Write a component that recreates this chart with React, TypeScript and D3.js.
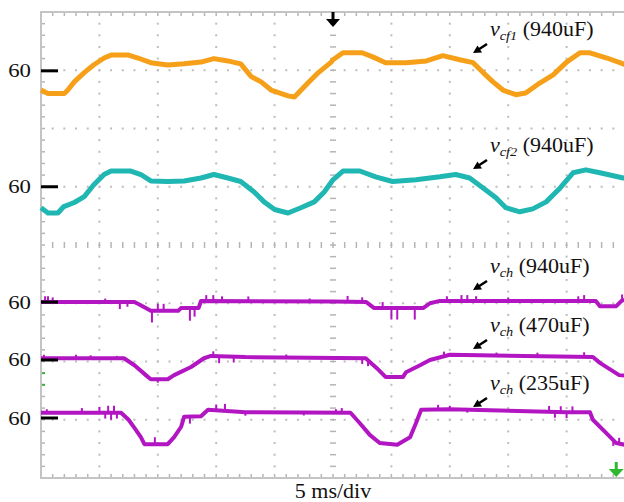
import React, { useRef, useEffect } from 'react';
import * as d3 from 'd3';

// time in divisions (5 ms/div), deviation in divisions from each channel's "60" marker
const vcf1 = [
  [0, -0.33], [0.12, -0.39], [0.4, -0.39], [0.46, -0.33], [0.57, -0.19], [0.74, -0.03], [0.9, 0.1],
  [1.08, 0.22], [1.2, 0.27], [1.5, 0.27], [1.66, 0.22], [1.88, 0.14], [2.17, 0.1], [2.45, 0.12],
  [2.74, 0.15], [2.96, 0.21], [3.2, 0.17], [3.42, 0.12], [3.6, -0.1], [3.77, -0.19], [3.94, -0.33],
  [4.23, -0.43], [4.34, -0.45], [4.57, -0.21], [4.75, -0.03], [4.97, 0.15], [5.0, 0.19], [5.17, 0.31],
  [5.5, 0.31], [5.68, 0.24], [5.9, 0.14], [6.25, 0.14], [6.6, 0.17], [6.88, 0.26], [7.17, 0.19],
  [7.4, 0.14], [7.57, -0.03], [7.74, -0.19], [7.91, -0.33], [8.13, -0.41], [8.3, -0.38], [8.54, -0.21],
  [8.77, -0.07], [9.0, 0.15], [9.23, 0.31], [9.4, 0.31], [9.69, 0.22], [9.97, 0.12], [10, 0.1],
];

const vcf2 = [
  [0, -0.36], [0.12, -0.45], [0.29, -0.45], [0.39, -0.34], [0.57, -0.27], [0.74, -0.17], [0.9, 0.03],
  [1.08, 0.21], [1.2, 0.27], [1.54, 0.27], [1.71, 0.21], [1.88, 0.1], [2.17, 0.09], [2.45, 0.1],
  [2.74, 0.15], [2.96, 0.21], [3.2, 0.15], [3.42, 0.09], [3.65, -0.09], [3.82, -0.26], [4.0, -0.39],
  [4.23, -0.45], [4.45, -0.36], [4.68, -0.26], [4.85, -0.09], [5.0, 0.12], [5.17, 0.27], [5.46, 0.27],
  [5.73, 0.17], [6.02, 0.09], [6.42, 0.12], [6.83, 0.17], [7.1, 0.21], [7.34, 0.15], [7.57, -0.02],
  [7.79, -0.19], [7.96, -0.36], [8.2, -0.43], [8.42, -0.38], [8.65, -0.26], [8.89, -0.02], [9.11, 0.24],
  [9.33, 0.29], [9.57, 0.24], [9.97, 0.15], [10, 0.15],
];

const vch940 = [
  [0, 0], [1.6, 0], [1.7, -0.05], [1.88, -0.15], [2.35, -0.15], [2.4, -0.1], [2.7, -0.1], [2.74, 0.02],
  [5.0, 0.01], [5.57, 0], [5.7, -0.1], [6.55, -0.1], [6.66, -0.02], [6.83, 0.02], [9.5, 0.02],
  [9.57, -0.07], [9.85, -0.07], [9.95, 0.03], [10, 0.03],
];

const vch470 = [
  [0, 0.03], [1.42, 0.03], [1.6, -0.09], [1.83, -0.29], [1.88, -0.33], [2.17, -0.33], [2.28, -0.26],
  [2.57, -0.12], [2.79, 0.03], [2.91, 0.07], [3.5, 0.05], [5.56, 0.03], [5.75, -0.14], [5.9, -0.29],
  [6.2, -0.29], [6.25, -0.21], [6.49, -0.09], [6.66, 0], [7.0, 0.09], [9.45, 0.05], [9.57, -0.05],
  [9.9, -0.26], [10, -0.27],
];

const vch235 = [
  [0, 0.09], [1.37, 0.09], [1.5, -0.03], [1.6, -0.17], [1.71, -0.33], [1.77, -0.45], [2.17, -0.45],
  [2.28, -0.33], [2.4, -0.15], [2.45, 0.02], [2.74, 0.03], [2.86, 0.14], [3.5, 0.1], [5.3, 0.09],
  [5.46, -0.09], [5.63, -0.29], [5.8, -0.43], [6.1, -0.46], [6.32, -0.33], [6.42, -0.09], [6.51, 0.14],
  [7.0, 0.15], [9.0, 0.1], [9.4, 0.1], [9.45, -0.03], [9.68, -0.26], [9.85, -0.43], [10, -0.46],
];

// noise spikes: [time, jump]
const spikes940 = [
  [0.07, 0.1], [0.12, 0.1], [0.2, 0.08], [1.1, 0.06], [1.35, -0.12], [1.48, -0.08], [1.9, -0.2],
  [2.0, 0.12], [2.1, 0.12], [2.55, -0.22], [2.63, -0.15], [2.83, 0.1], [2.95, 0.1], [3.1, 0.08],
  [3.55, 0.08], [4.6, 0.05], [5.25, 0.1], [5.5, 0.08], [5.85, 0.1], [6.0, -0.2], [6.1, -0.2],
  [6.4, -0.2], [6.95, 0.08], [7.2, 0.1], [7.3, 0.1], [7.45, 0.08], [8.0, 0.06], [9.2, 0.08],
  [9.3, 0.1], [9.95, 0.1],
];
const spikes470 = [
  [0.05, 0.06], [0.6, 0.06], [0.85, 0.05], [1.3, 0.04], [2.0, -0.06], [2.95, 0.08], [3.05, -0.12],
  [3.3, -0.1], [4.2, 0.05], [5.5, -0.1], [5.6, -0.1], [6.9, 0.08], [7.8, 0.05], [8.5, 0.06], [9.3, 0.08],
];
const spikes235 = [
  [0.1, 0.06], [0.7, 0.08], [1.0, 0.1], [1.1, -0.1], [1.15, 0.12], [1.2, -0.12], [1.25, 0.12],
  [1.3, -0.1], [1.95, 0.12], [2.55, -0.12], [3.0, 0.1], [3.15, 0.12], [3.5, -0.06], [4.5, -0.05],
  [5.05, 0.06], [5.15, 0.08], [6.8, 0.08], [7.0, 0.06], [7.3, -0.05], [8.7, 0.1], [8.8, -0.1],
  [8.9, 0.1], [9.0, -0.1], [9.1, 0.1], [9.8, -0.1], [9.9, 0.1],
];

// channel markers in divisions from the bottom of the screen
const refLevels = [6.99, 5.0, 3.02, 2.026, 1.03];
const refLabel = '60';
const subs = ['cf1', 'cf2', 'ch', 'ch', 'ch'];
const caps = ['940uF', '940uF', '940uF', '470uF', '235uF'];

const traces = [vcf1, vcf2, vch940, vch470, vch235];
const spikeSets = [[], [], spikes940, spikes470, spikes235];
const colors = ['#f6a01a', '#20b7b3', '#b216c2', '#b216c2', '#b216c2'];

const W = 624;
const H = 502;

function Scope() {
  const ref = useRef(null);

  useEffect(() => {
    const svg = d3.select(ref.current);
    svg.selectAll('*').remove();

    const x = d3.scaleLinear().domain([0, 10]).range([41, 625]);
    const y = d3.scaleLinear().domain([0, 8]).range([478, 12]);
    const grey = '#bdbdbd';

    svg.append('rect').attr('width', W).attr('height', H).attr('fill', '#fff');

    // dotted grid
    const dots = svg.append('g').attr('fill', grey);
    for (let k = 1; k < 10; k++) {
      if (k === 5) continue;
      for (let j = 1; j < 40; j++) {
        dots.append('rect').attr('x', x(k) - 1).attr('y', y(j / 5) - 1).attr('width', 2).attr('height', 2);
      }
    }
    for (let k = 1; k < 8; k++) {
      if (k === 4) continue;
      for (let j = 1; j < 50; j++) {
        dots.append('rect').attr('x', x(j / 5) - 1).attr('y', y(k) - 1).attr('width', 2).attr('height', 2);
      }
    }

    // minor ticks on centre lines and borders
    const ticks = svg.append('g').attr('stroke', '#b5b5b5').attr('stroke-width', 1.5);
    for (let j = 1; j < 50; j++) {
      const px = x(j / 5);
      ticks.append('line').attr('x1', px).attr('x2', px).attr('y1', y(4) - 3).attr('y2', y(4) + 3);
      ticks.append('line').attr('x1', px).attr('x2', px).attr('y1', y(8)).attr('y2', y(8) + 4);
      ticks.append('line').attr('x1', px).attr('x2', px).attr('y1', y(0) - 4).attr('y2', y(0));
    }
    for (let j = 1; j < 40; j++) {
      const py = y(j / 5);
      ticks.append('line').attr('x1', x(5) - 3).attr('x2', x(5) + 3).attr('y1', py).attr('y2', py);
      ticks.append('line').attr('x1', x(0)).attr('x2', x(0) + 4).attr('y1', py).attr('y2', py);
    }

    // frame
    svg.append('path')
      .attr('d', `M${x(10)},${y(8)}H${x(0)}V${y(0)}H${x(10)}`)
      .attr('fill', 'none').attr('stroke', '#c4c4c4').attr('stroke-width', 2);

    // green dashes on left edge
    [1.6, 1.8].forEach((v) => {
      svg.append('line').attr('x1', x(0) + 1).attr('x2', x(0) + 4).attr('y1', y(v)).attr('y2', y(v))
        .attr('stroke', '#3cb43c').attr('stroke-width', 2);
    });

    // traces
    const line = d3.line().x((d) => x(d[0]));
    traces.forEach((data, i) => {
      const off = refLevels[i];
      svg.append('path')
        .datum(data)
        .attr('d', line.y((d) => y(off + d[1])))
        .attr('fill', 'none')
        .attr('stroke', colors[i])
        .attr('stroke-width', i < 2 ? 5 : 4)
        .attr('stroke-linejoin', 'round');

      const ts = data.map((d) => d[0]);
      const vs = data.map((d) => d[1]);
      const at = d3.scaleLinear().domain(ts).range(vs);
      spikeSets[i].forEach((s) => {
        const base = off + at(s[0]);
        svg.append('line')
          .attr('x1', x(s[0])).attr('x2', x(s[0]))
          .attr('y1', y(base)).attr('y2', y(base + s[1]))
          .attr('stroke', colors[i]).attr('stroke-width', 2);
      });
    });

    // channel markers and labels
    refLevels.forEach((lv) => {
      svg.append('line')
        .attr('x1', x(0)).attr('x2', x(0) + 17)
        .attr('y1', y(lv)).attr('y2', y(lv))
        .attr('stroke', '#000').attr('stroke-width', 3);
      svg.append('text')
        .attr('transform', `translate(31,${y(lv) + 6.5}) scale(1.2,1)`)
        .attr('text-anchor', 'end')
        .attr('font-family', '"Liberation Serif", "Times New Roman", serif')
        .attr('font-size', 19)
        .attr('fill', '#111')
        .text(refLabel);
    });

    // annotations
    const annY = [36, 152, 273, 332, 390];
    annY.forEach((by, i) => {
      const t = svg.append('text')
        .attr('transform', `translate(490,${by}) scale(1.1,1)`)
        .attr('font-family', '"Liberation Serif", "Times New Roman", serif')
        .attr('font-size', 20)
        .attr('fill', '#111');
      t.append('tspan').attr('font-style', 'italic').text('v');
      t.append('tspan').attr('font-style', 'italic').attr('font-size', 13).attr('dy', 4).text(subs[i]);
      t.append('tspan').attr('dy', -4).text(` (${caps[i]})`);

      const tipX = 473;
      const tipY = by + 17;
      svg.append('line')
        .attr('x1', tipX + 4).attr('y1', tipY - 2.5)
        .attr('x2', tipX + 14).attr('y2', tipY - 9)
        .attr('stroke', '#000').attr('stroke-width', 2.5);
      svg.append('path')
        .attr('d', `M${tipX},${tipY} l9,-0.5 l-4.5,-7 z`)
        .attr('fill', '#000');
    });

    // trigger markers
    svg.append('path')
      .attr('d', `M${x(5) - 1.5},${y(8)} h3 v7 h5.5 l-7,8 l-7,-8 h5.5 z`)
      .attr('fill', '#000');
    svg.append('path')
      .attr('d', `M${x(9.85) - 1.5},${y(0) - 16} h3 v7 h6 l-7.5,8 l-7.5,-8 h6 z`)
      .attr('fill', '#2fb82f');

    svg.append('text')
      .attr('transform', `translate(${x(5)},498) scale(1.1,1)`)
      .attr('text-anchor', 'middle')
      .attr('font-family', '"Liberation Serif", "Times New Roman", serif')
      .attr('font-size', 20)
      .attr('fill', '#111')
      .text('5 ms/div');
  }, []);

  return (
    <svg
      ref={ref}
      width={W}
      height={H}
      style={{ position: 'absolute', left: 0, top: 0, display: 'block' }}
    />
  );
}

export default function App() {
  return <Scope />;
}
